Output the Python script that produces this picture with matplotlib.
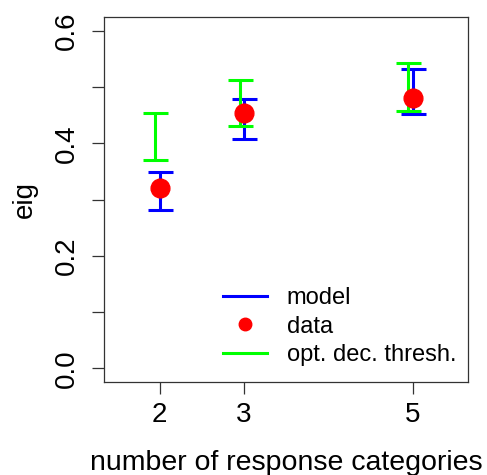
import matplotlib
matplotlib.use("Agg")
import matplotlib.pyplot as plt
from matplotlib.lines import Line2D
import numpy as np

plt.rcParams['font.family'] = ['Liberation Sans', 'DejaVu Sans']

categories = [2, 3, 5]
model_low = [0.281, 0.408, 0.452]
model_high = [0.349, 0.479, 0.532]
data_vals = [0.320, 0.453, 0.480]
thresh_low = [0.371, 0.430, 0.458]
thresh_high = [0.453, 0.513, 0.543]
yticks = [0.0, 0.1, 0.2, 0.3, 0.4, 0.5, 0.6]
yticklabels = ["0.0", "", "0.2", "", "0.4", "", "0.6"]
xticks = [2, 3, 5]

W, H = 487, 475
fig = plt.figure(figsize=(W/100, H/100), dpi=100)
ax = fig.add_axes([104/W, 1-381.7/H, (468.3-104)/W, (381.7-17.3)/H])

x = np.array(categories, dtype=float)
green_off = -0.05
lw = 2.2

def bars(xp, lo, hi, color):
    lo = np.array(lo); hi = np.array(hi)
    c = (lo + hi) / 2
    e = (hi - lo) / 2
    ax.errorbar(xp, c, yerr=e, fmt='none', ecolor=color, elinewidth=lw,
                capsize=9, capthick=lw)

bars(x, model_low, model_high, '#0000ff')
bars(x + green_off, thresh_low, thresh_high, '#00ff00')
ax.plot(x, data_vals, 'o', color='#ff0000', markersize=13.5, zorder=5)

ax.set_xlim(1.5 - 0.16, 5.5 + 0.16)
ax.set_ylim(-0.024, 0.624)
ax.set_xticks(xticks)
ax.set_xticklabels([str(v) for v in xticks], fontsize=20)
ax.set_yticks(yticks)
ax.set_yticklabels(yticklabels, fontsize=20, rotation=90, va='center')
ax.tick_params(length=8.6, width=0.9, color='#333333', pad=6)
ax.tick_params(axis='y', pad=8.5)
for s in ax.spines.values():
    s.set_linewidth(0.9)
    s.set_color('#333333')

ax.set_xlabel("number of response categories", fontsize=20.5, labelpad=16)
ax.set_ylabel("eig", fontsize=20, labelpad=12)

handles = [Line2D([], [], color='#0000ff', lw=lw),
           Line2D([], [], color='#ff0000', marker='o', ls='none', markersize=9),
           Line2D([], [], color='#00ff00', lw=lw)]
ax.legend(handles, ["model", "data", "opt. dec. thresh."], loc='lower right',
          bbox_to_anchor=(1.0125, -0.003), frameon=False, fontsize=17,
          handlelength=1.85, handletextpad=0.85, labelspacing=0.28,
          borderpad=0.2)

fig.savefig("out.png", dpi=100)
